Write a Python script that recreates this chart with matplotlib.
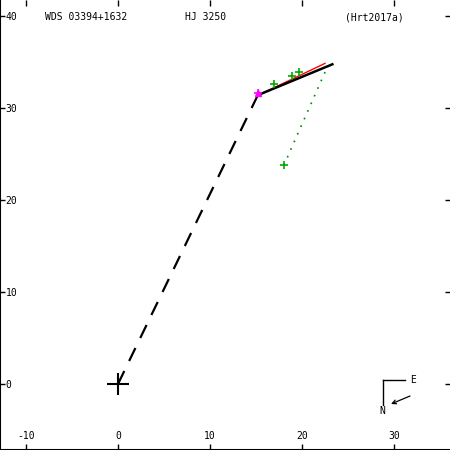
import matplotlib
matplotlib.use("Agg")
import matplotlib.pyplot as plt

# ---- data ----
x_ticks = [-10, 0, 10, 20, 30]
y_ticks = [0, 10, 20, 30, 40]
x_tick_labels = ["-10", "0", "10", "20", "30"]
y_tick_labels = ["0", "10", "20", "30", "40"]

dash_x = [0.0, 15.2]
dash_y = [0.0, 31.4]

fit_x = [15.2, 23.3]
fit_y = [31.4, 34.75]

orbit_x = [15.6, 22.5]
orbit_y = [31.55, 34.85]

obs_x = [16.96, 18.9, 19.7, 18.04]
obs_y = [32.6, 33.5, 33.9, 23.8]

resid_x = [18.04, 22.7]
resid_y = [23.8, 34.35]

first_x = [15.2]
first_y = [31.6]

title_left = "WDS 03394+1632"
title_mid = "HJ 3250"
title_right = "(Hrt2017a)"

# ---- figure ----
W = 450
fig = plt.figure(figsize=(4.5, 4.5), dpi=100)
ax = fig.add_axes([0, 0, 1, 1])
ax.set_xlim(-118 / 9.2, (450 - 118) / 9.2)
ax.set_ylim(-(450 - 384) / 9.2, 384 / 9.2)

mono = "DejaVu Sans Mono"
fs = 7

ax.plot(dash_x, dash_y, color="black", lw=1.6, ls=(0, (6.5, 5)))
ax.plot(orbit_x, orbit_y, color="red", lw=1.0)
ax.plot(fit_x, fit_y, color="black", lw=1.8)
ax.plot(resid_x, resid_y, color="#008800", lw=1.2, ls=(0, (1, 4)))
ax.plot(obs_x, obs_y, ls="none", marker="+", color="#00aa00", ms=6, mew=1.2)
ax.plot(first_x, first_y, ls="none", marker="^", color="magenta", ms=5)
ax.plot(first_x, first_y, ls="none", marker="+", color="magenta", ms=6, mew=1.2)
ax.plot([0], [0], ls="none", marker="+", color="black", ms=16, mew=1.5)

# axes styling
for s in ["top", "right"]:
    ax.spines[s].set_visible(False)
for s in ["left", "bottom"]:
    ax.spines[s].set_linewidth(1.5)

ax.set_xticks(x_ticks)
ax.set_xticklabels(x_tick_labels, fontsize=fs, family=mono)
ax.set_yticks(y_ticks)
ax.set_yticklabels(y_tick_labels, fontsize=fs, family=mono)
ax.tick_params(axis="x", direction="in", length=4.5, width=1, pad=-6.5,
               top=True, bottom=True)
ax.tick_params(axis="y", direction="in", length=3.5, width=1, pad=-4.0,
               left=True, right=True)
for lab in ax.get_yticklabels():
    lab.set_horizontalalignment("left")
for lab in ax.get_xticklabels():
    lab.set_verticalalignment("bottom")

def px(x, y):
    return (x / W, 1 - y / W)

ax.text(*px(45, 17), title_left, transform=ax.transAxes, family=mono,
        fontsize=fs, ha="left", va="center")
ax.text(*px(185, 17), title_mid, transform=ax.transAxes, family=mono,
        fontsize=fs, ha="left", va="center")
ax.text(*px(345, 17), title_right, transform=ax.transAxes, family=mono,
        fontsize=fs, ha="left", va="center")

# compass
ax.plot([383 / W, 383 / W], [1 - 380 / W, 1 - 405 / W], color="black",
        lw=1, transform=ax.transAxes)
ax.plot([383 / W, 405 / W], [1 - 380 / W, 1 - 380 / W], color="black",
        lw=1, transform=ax.transAxes)
ax.text(*px(413, 380), "E", transform=ax.transAxes, family=mono,
        fontsize=fs, ha="center", va="center")
ax.text(*px(382, 411), "N", transform=ax.transAxes, family=mono,
        fontsize=fs, ha="center", va="center")
ax.annotate("", xy=px(391, 404), xytext=px(410, 396),
            xycoords="axes fraction", textcoords="axes fraction",
            arrowprops=dict(arrowstyle="->", lw=0.9, color="black",
                            mutation_scale=7, shrinkA=0, shrinkB=0))

fig.savefig("out.png", dpi=100)
